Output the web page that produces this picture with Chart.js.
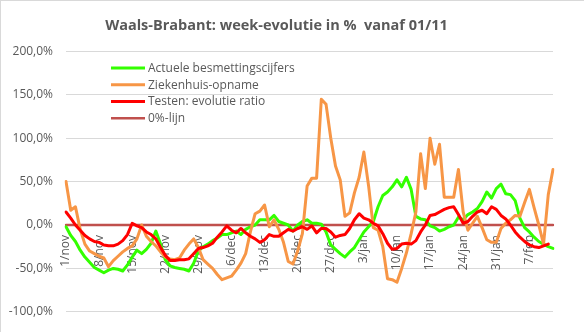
<!DOCTYPE html>
<html>
<head>
<meta charset="utf-8">
<title>Waals-Brabant week-evolutie</title>
<script src="https://cdn.jsdelivr.net/npm/chart.js@4.4.1/dist/chart.umd.min.js"></script>
<style>
  html, body { margin: 0; padding: 0; background: #fff; }
  #wrap { position: relative; width: 584px; height: 332px; }
  #wrap::after {
    content: ""; position: absolute; inset: 0;
    border-top: 1px solid #d9d9d9; border-left: 1px solid #d9d9d9;
    pointer-events: none;
  }
</style>
</head>
<body>
<div id="wrap"><canvas id="chart" width="584" height="332"></canvas></div>
<script>
// one category per day, 1 nov -> 12 feb
const startDate = new Date(2020, 10, 1);
const dayCount = 104;
const monthNames = ["jan", "feb", "mrt", "apr", "mei", "jun", "jul", "aug", "sep", "okt", "nov", "dec"];
const tickEvery = 7;

const days = [];
for (let i = 0; i < dayCount; i++) {
  const d = new Date(startDate.getFullYear(), startDate.getMonth(), startDate.getDate() + i);
  days.push(d.getDate() + "/" + monthNames[d.getMonth()]);
}

const besmettingen = [
  -2, -12, -19, -29, -37, -43, -49, -52, -55, -52,
  -50, -51, -53, -46, -37, -29, -33, -28, -21, -7,
  -22, -40, -47, -49, -50, -51, -53, -44, -30, -25,
  -22, -18, -15, -11, -11, -9, -7, -11, -5, -2,
  0, 6, 6, 6, 11, 4, 2, 0, -7, 0,
  4, 6, 2, 2, 1, -8, -23, -28, -33, -37,
  -31, -26, -17, -8, -2, 4, 21, 34, 38, 44,
  52, 44, 55, 41, 10, 7, 6, -1, -3, -7,
  -5, -2, 0, 9, 6, 12, 15, 19, 27, 38,
  31, 42, 47, 36, 35, 28, 8, -3, -8, -14,
  -19, -22, -25, -27
];

const ziekenhuis = [
  50, 17, 21, -5, -22, -30, -33, -36, -38, -48,
  -41, -36, -31, -27, -24, -16, 0, -13, -19, -24,
  -31, -37, -39, -40, -38, -29, -22, -16, -26, -40,
  -45, -50, -57, -63, -61, -59, -52, -44, -33, -8,
  13, 16, 23, -2, 6, -5, -20, -42, -45, -30,
  -10, 45, 54, 54, 145, 139, 100, 68, 52, 10,
  14, 37, 55, 84, 45, -3, -6, -25, -62, -63,
  -66, -50, -32, -10, 15, 82, 42, 100, 70, 93,
  32, 32, 32, 64, 15, -6, 2, 10, -3, -17,
  -20, -20, -4, 2, 6, 11, 10, 26, 41, 20,
  0, -22, 35, 64
];

const testRatio = [
  15, 8, 0, -6, -12, -16, -19, -20, -23, -24,
  -24, -22, -18, -11, 2, -1, -3, -8, -11, -16,
  -26, -35, -41, -41, -40, -40, -39, -33, -27, -26,
  -24, -21, -14, -8, -1, -6, -9, -4, -9, -13,
  -16, -20, -17, -11, -13, -13, -9, -5, -7, -4,
  -2, -5, -1, -9, -4, -4, -8, -14, -12, -11,
  -4, 6, 13, 8, 6, 2, -1, -10, -21, -28,
  -27, -22, -21, -22, -18, -8, 0, 11, 12, 15,
  18, 20, 21, 12, 2, 4, 10, 15, 17, 13,
  21, 18, 11, 7, 0, -8, -14, -19, -23, -25,
  -26, -24, -22, null
];

const nulLijn = days.map(() => 0);

const yMin = -100, yMax = 200, yStep = 50;

function pct(v) {
  return v.toFixed(1).replace(".", ",") + "%";
}

// legend drawn inside the plot, top left
const innerLegend = {
  id: "innerLegend",
  afterDraw(chart) {
    const { ctx, chartArea } = chart;
    ctx.save();
    ctx.font = '12px "Open Sans", sans-serif';
    ctx.textBaseline = "middle";
    chart.data.datasets.forEach((ds, k) => {
      const x = chartArea.left + 45;
      const y = chartArea.top + 16.5 + k * 16.8;
      ctx.strokeStyle = ds.borderColor;
      ctx.lineWidth = ds.borderWidth;
      ctx.beginPath();
      ctx.moveTo(x, y);
      ctx.lineTo(x + 34, y);
      ctx.stroke();
      ctx.fillStyle = "#595959";
      ctx.fillText(ds.label, x + 37, y + 0.5);
    });
    ctx.restore();
  }
};

Chart.defaults.font.family = '"Open Sans", sans-serif';
Chart.defaults.font.size = 12;
Chart.defaults.color = "#595959";

new Chart(document.getElementById("chart"), {
  type: "line",
  data: {
    labels: days,
    datasets: [
      { label: "Actuele besmettingscijfers", data: besmettingen, borderColor: "#33ff00", borderWidth: 3, order: 3 },
      { label: "Ziekenhuis-opname", data: ziekenhuis, borderColor: "#f79646", borderWidth: 3, order: 2 },
      { label: "Testen: evolutie ratio", data: testRatio, borderColor: "#ff0000", borderWidth: 3, order: 1 },
      { label: "0%-lijn", data: nulLijn, borderColor: "#c0504d", borderWidth: 2.5, order: 4 }
    ]
  },
  options: {
    responsive: false,
    animation: false,
    layout: { padding: { left: 0, right: 31, top: 0, bottom: 10 } },
    elements: {
      point: { radius: 0 },
      line: { tension: 0, borderCapStyle: "round", borderJoinStyle: "round", fill: false }
    },
    plugins: {
      legend: { display: false },
      tooltip: { enabled: false },
      title: {
        display: true,
        text: "Waals-Brabant: week-evolutie in %  vanaf 01/11",
        color: "#595959",
        font: { size: 14.5, weight: "bold" },
        padding: { top: 17, bottom: 17 }
      }
    },
    scales: {
      x: {
        type: "category",
        position: { y: 0 },
        offset: false,
        grid: { display: false, drawTicks: false },
        border: { display: false },
        ticks: {
          autoSkip: false,
          minRotation: 90,
          maxRotation: 90,
          padding: 10,
          color: "#595959",
          callback: (v, i) => (i % tickEvery === 0 ? days[i] : "")
        },
        afterFit: (s) => { s.height = 0; }
      },
      y: {
        min: yMin,
        max: yMax,
        grid: { color: "#d9d9d9", lineWidth: 1, drawTicks: false },
        border: { display: false },
        ticks: { stepSize: yStep, padding: 13, color: "#595959", callback: (v) => pct(v) },
        afterFit: (s) => { s.width = 66; }
      }
    }
  },
  plugins: [innerLegend]
});
</script>
</body>
</html>
